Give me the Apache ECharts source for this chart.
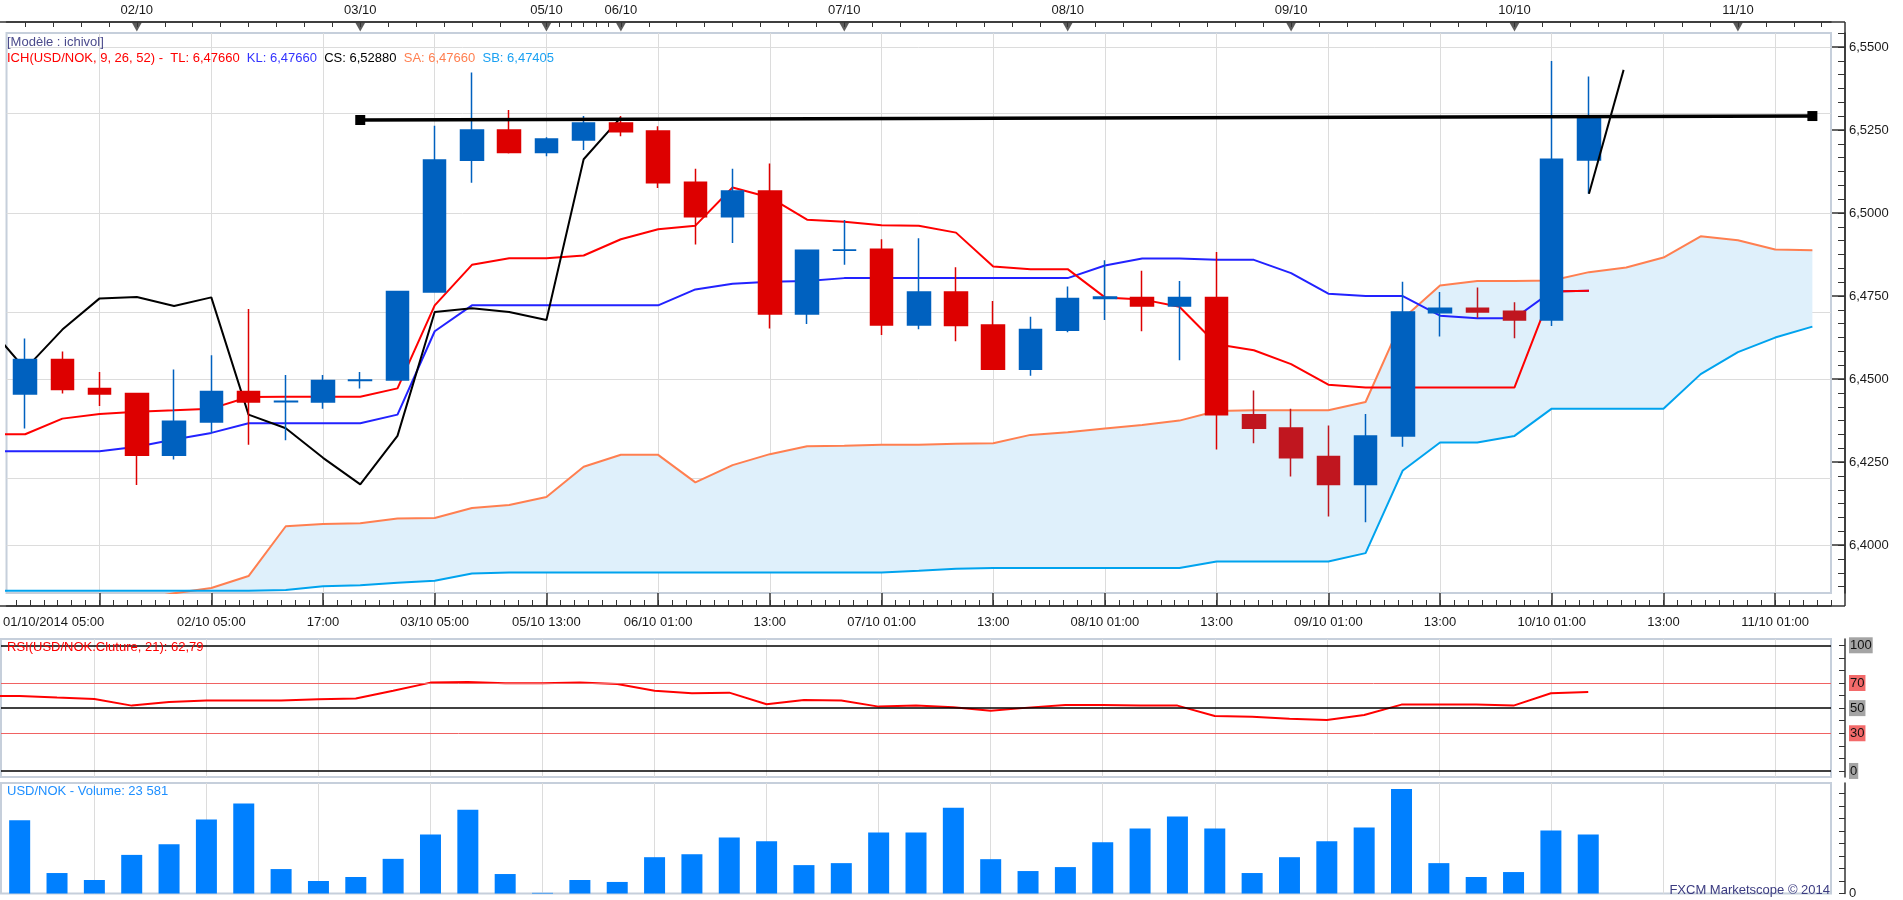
<!DOCTYPE html>
<html><head><meta charset="utf-8">
<script src="https://cdn.jsdelivr.net/npm/echarts@6/dist/echarts.min.js"></script>
<style>html,body{margin:0;padding:0;background:#fff;}#c{width:1903px;height:900px;}</style>
</head><body><div id="c"></div>
<script>
// ---------- data ----------
const slots = Array.from({length: 49}, (_, i) => String(i));
const openP  = [6.4455,6.4559,6.4472,6.4457,6.4271,6.4371,6.4463,6.4432,6.4431,6.4496,6.4497,6.4762,6.5159,6.5250,6.5182,6.5220,6.5271,6.5247,6.5093,6.4989,6.5066,6.4696,6.4888,6.4891,6.4663,6.4762,6.4663,6.4530,6.4647,6.4743,6.4746,6.4720,6.4746,6.4393,6.4353,6.4267,6.4183,6.4329,6.4700,6.4713,6.4704,6.4678,6.5160];
const closeP = [6.4559,6.4469,6.4455,6.4271,6.4373,6.4463,6.4431,6.4433,6.4496,6.4497,6.4764,6.5160,6.5250,6.5182,6.5223,6.5271,6.5245,6.5091,6.4989,6.5066,6.4696,6.4888,6.4889,6.4663,6.4762,6.4661,6.4530,6.4649,6.4743,6.4747,6.4720,6.4746,6.4393,6.4352,6.4263,6.4183,6.4329,6.4702,6.4713,6.4702,6.4678,6.5162,6.5288];
const highP  = [6.4622,6.4583,6.4521,6.4458,6.4529,6.4572,6.4711,6.4512,6.4512,6.4521,6.4766,6.5263,6.5423,6.5310,6.5228,6.5292,6.5292,6.5261,6.5133,6.5133,6.5149,6.4889,6.4979,6.4921,6.4924,6.4837,6.4735,6.4688,6.4779,6.4858,6.4826,6.4795,6.4883,6.4466,6.4411,6.4360,6.4395,6.4793,6.4762,6.4776,6.4731,6.5458,6.5411];
const lowP   = [6.4351,6.4457,6.4419,6.4181,6.4258,6.4338,6.4302,6.4316,6.4411,6.4472,6.4496,6.4760,6.5091,6.5179,6.5171,6.5190,6.5231,6.5075,6.4905,6.4910,6.4652,6.4666,6.4844,6.4633,6.4650,6.4614,6.4529,6.4510,6.4641,6.4678,6.4644,6.4557,6.4288,6.4307,6.4207,6.4086,6.4069,6.4296,6.4628,6.4685,6.4623,6.4660,6.5058];
// indicator lines; each starts with the value seen at the left edge (slot -1)
const tenkan = [6.4334,6.4334,6.4381,6.4395,6.4402,6.4406,6.4411,6.4446,6.4447,6.4447,6.4447,6.4472,6.4722,6.4844,6.4864,6.4864,6.4872,6.4921,6.4951,6.4962,6.5077,6.5047,6.4980,6.4974,6.4963,6.4962,6.4941,6.4839,6.4831,6.4831,6.4746,6.4740,6.4718,6.4605,6.4587,6.4545,6.4483,6.4475,6.4475,6.4475,6.4475,6.4475,6.4764,6.4766];
const kijun  = [6.4283,6.4283,6.4283,6.4283,6.4296,6.4318,6.4338,6.4367,6.4367,6.4367,6.4367,6.4393,6.4644,6.4722,6.4722,6.4722,6.4722,6.4722,6.4722,6.4770,6.4787,6.4793,6.4795,6.4804,6.4804,6.4804,6.4804,6.4804,6.4804,6.4804,6.4842,6.4863,6.4863,6.4859,6.4859,6.4819,6.4757,6.4750,6.4750,6.4691,6.4683,6.4683,6.4764,6.4766];
const chikou = [6.4661,6.4530,6.4649,6.4743,6.4747,6.4720,6.4746,6.4393,6.4352,6.4263,6.4183,6.4329,6.4702,6.4713,6.4702,6.4678,6.5162,6.5288];
const senkouA = [6.3830,6.3830,6.3830,6.3830,6.3835,6.3855,6.3871,6.3907,6.4057,6.4064,6.4066,6.4080,6.4082,6.4112,6.4121,6.4145,6.4236,6.4272,6.4272,6.4189,6.4241,6.4274,6.4298,6.4299,6.4302,6.4302,6.4305,6.4307,6.4332,6.4340,6.4351,6.4362,6.4375,6.4404,6.4406,6.4406,6.4406,6.4431,6.4682,6.4782,6.4795,6.4795,6.4797,6.4822,6.4836,6.4866,6.4930,6.4918,6.4890,6.4888];
const senkouB = [6.3863,6.3863,6.3863,6.3863,6.3863,6.3863,6.3863,6.3863,6.3865,6.3876,6.3879,6.3887,6.3893,6.3915,6.3918,6.3918,6.3918,6.3918,6.3918,6.3918,6.3918,6.3918,6.3918,6.3918,6.3918,6.3923,6.3929,6.3931,6.3931,6.3931,6.3931,6.3931,6.3931,6.3951,6.3951,6.3951,6.3951,6.3976,6.4225,6.4309,6.4309,6.4329,6.4411,6.4411,6.4411,6.4411,6.4515,6.4581,6.4625,6.4658];
const rsi = [59.7,59.7,58.4,57.3,52.0,54.9,56.0,56.0,56.0,57.0,57.6,63.9,70.3,70.8,69.8,69.8,70.3,69.2,63.9,61.8,62.3,53.1,56.5,56.0,51.2,52.0,50.7,48.0,50.4,52.5,52.5,52.0,52.0,43.8,43.2,41.6,40.6,44.6,52.8,52.8,52.8,52.0,61.8,62.8];
const volume = [29240,8170,5400,15410,19620,29500,35950,9750,5000,6590,13830,23580,33450,7770,260,5400,4610,14490,15670,22390,20810,11330,12120,24360,24360,34240,13700,8960,10540,20410,25940,30690,25940,8170,14490,20810,26340,41750,12120,6590,8560,25150,23581];
// drawn lines (x in bar slots, y in price)
const levelLine = [[9, 6.5280], [48, 6.5292]];
const trendLine = [[42, 6.5058], [42.93, 6.5431]];
const lastPrice = 6.5288;
// axis labels
const dayIdx = [3, 9, 14, 16, 22, 28, 34, 40, 46];
const dayLabels = ['02/10','03/10','05/10','06/10','07/10','08/10','09/10','10/10','11/10'];
const timeIdx = [2,5,8,11,14,17,20,23,26,29,32,35,38,41,44,47];
const timeLabels = ['01/10/2014 05:00','02/10 05:00','17:00','03/10 05:00','05/10 13:00','06/10 01:00','13:00','07/10 01:00','13:00','08/10 01:00','13:00','09/10 01:00','13:00','10/10 01:00','13:00','11/10 01:00'];
const priceTicks = [6.400, 6.425, 6.450, 6.475, 6.500, 6.525, 6.550];
const rsiLabels = [0, 30, 50, 70, 100];

// ---------- helpers ----------
const FONT = "'Liberation Sans', Arial, sans-serif";
const PMIN = 6.3856, PMAX = 6.5542;
const fromPrev = arr => arr.map((v, k) => [k - 1, v]);   // first value sits at slot -1
const topMinor = [];
for (let v = 3; v >= -0.5; v -= 0.75) topMinor.push(v);
for (let v = 3.75; v < 14; v += 0.75) topMinor.push(v);
for (let v = 14; v < 15.9; v += 1/3) topMinor.push(v);
for (let v = 16; v <= 48.5; v += 0.75) topMinor.push(v);
const botMinor = [];
for (let v = 2 - 0.375*6; v <= 48.5; v += 0.375) botMinor.push(v);
const yMinor = [];
for (let k = -3; k <= 37; k++) { const v = 6.4 + k*0.025/6; if (v > PMIN && v < PMAX) yMinor.push(+v.toFixed(6)); }
const rsiTicks = []; for (let v = 0; v <= 100; v += 10) rsiTicks.push(v);
const volTicks = []; for (let v = 0; v <= 44000; v += 5000) volTicks.push(v);

const sa = senkouA.slice(1), sb = senkouB.slice(1);
const cloudBand = sa.map((a, i) => Math.max(0, a - sb[i]));
const candleData = openP.map((o, i) => {
  const item = {value: [o, closeP[i], lowP[i], highP[i]]};
  if (closeP[i] < o && o < sa[i] && o > sb[i]) item.itemStyle = {color0: '#c0161f', borderColor0: '#c0161f'};
  return item;
});
const gridV = timeIdx.map(i => ({xAxis: i}));
const gridH = priceTicks.map(v => ({yAxis: v}));
const gl = {color: '#dcdcdc', width: 1, type: 'solid'};

const W = 1903;
const grids = [
  {left: 1, right: W - 1831, top: 33, height: 560, show: true, borderColor: '#c6cfdb', borderWidth: 2, backgroundColor: '#fff'},
  {left: 1, right: W - 1831, top: 639, height: 138, show: true, borderColor: '#c6cfdb', borderWidth: 2, backgroundColor: '#fff'},
  {left: 1, right: W - 1831, top: 783, height: 112, show: true, borderColor: '#c6cfdb', borderWidth: 2, backgroundColor: '#fff'}
];
const axLine = {show: true, onZero: false, lineStyle: {color: '#333', width: 1.5}};
const noLine = {show: false, onZero: false};
const lblStyle = {fontSize: 13, color: '#1a1a1a', fontFamily: FONT};

const option = {
  animation: false,
  backgroundColor: '#fff',
  textStyle: {fontFamily: FONT},
  title: [
    {text: '[Modèle : ichivol]', left: 7, top: 36, padding: 0, textStyle: {fontSize: 13, fontWeight: 'normal', color: '#4b4b8c', fontFamily: FONT}},
    {text: '{r|ICH(USD/NOK, 9, 26, 52) -  TL: 6,47660}  {b|KL: 6,47660}  {k|CS: 6,52880}  {o|SA: 6,47660}  {c|SB: 6,47405}',
     left: 7, top: 52, padding: 0,
     textStyle: {fontSize: 13, fontWeight: 'normal', fontFamily: FONT, color: '#000',
       rich: {r: {color: '#ff0000', fontSize: 13, fontFamily: FONT}, b: {color: '#3333ff', fontSize: 13, fontFamily: FONT},
              k: {color: '#000', fontSize: 13, fontFamily: FONT}, o: {color: '#ff7f50', fontSize: 13, fontFamily: FONT},
              c: {color: '#1ba1f2', fontSize: 13, fontFamily: FONT}}}},
    {text: 'RSI(USD/NOK.Cluture, 21): 62,79', left: 7, top: 641, padding: 0, textStyle: {fontSize: 13, fontWeight: 'normal', color: '#ff0000', fontFamily: FONT}},
    {text: 'USD/NOK - Volume: 23 581', left: 7, top: 785, padding: 0, textStyle: {fontSize: 13, fontWeight: 'normal', color: '#1e8fff', fontFamily: FONT}},
    {text: 'FXCM Marketscope © 2014', right: W - 1830, top: 884, padding: 0, textStyle: {fontSize: 13, fontWeight: 'normal', color: '#3b3b80', fontFamily: FONT}}
  ],
  grid: grids,
  xAxis: [
    {type: 'category', gridIndex: 0, data: slots, boundaryGap: true, show: false, axisLine: noLine},
    {type: 'value', gridIndex: 0, position: 'top', offset: 11, min: -0.5, max: 48.5, axisLine: axLine,
     axisTick: {show: true, inside: true, length: 5, customValues: topMinor, lineStyle: {color: '#333'}},
     axisLabel: Object.assign({customValues: dayIdx, margin: 5, formatter: v => dayLabels[dayIdx.indexOf(Math.round(v))] || ''}, lblStyle),
     splitLine: {show: false}},
    {type: 'value', gridIndex: 0, position: 'bottom', offset: 13, min: -0.5, max: 48.5, axisLine: axLine,
     axisTick: {show: true, inside: true, length: 13, customValues: timeIdx, lineStyle: {color: '#333', width: 1.5}},
     axisLabel: Object.assign({customValues: timeIdx, margin: 10,
       formatter: v => { const k = timeIdx.indexOf(Math.round(v)); return k === 0 ? '{f|' + timeLabels[0] + '}' : (timeLabels[k] || ''); },
       rich: {f: {fontSize: 13, color: '#1a1a1a', fontFamily: FONT, padding: [0, 92, 0, 0]}}}, lblStyle),
     splitLine: {show: false}},
    {type: 'value', gridIndex: 0, position: 'bottom', offset: 13, min: -0.5, max: 48.5, axisLine: noLine,
     axisTick: {show: true, inside: true, length: 6, customValues: botMinor, lineStyle: {color: '#333'}},
     axisLabel: {show: false}, splitLine: {show: false}},
    {type: 'category', gridIndex: 1, data: slots, boundaryGap: true, show: false, axisLine: noLine},
    {type: 'category', gridIndex: 2, data: slots, boundaryGap: true, show: false, axisLine: noLine},
    {type: 'value', gridIndex: 1, min: -0.5, max: 48.5, show: false, axisLine: noLine}
  ],
  yAxis: [
    {type: 'value', gridIndex: 0, position: 'right', offset: 14, min: PMIN, max: PMAX, axisLine: axLine,
     axisTick: {show: true, inside: true, length: 7, customValues: yMinor, lineStyle: {color: '#333'}},
     axisLabel: Object.assign({customValues: priceTicks, margin: 4, formatter: v => v.toFixed(4).replace('.', ',')}, lblStyle),
     splitLine: {show: false}},
    {type: 'value', gridIndex: 0, position: 'right', offset: 14, min: PMIN, max: PMAX, axisLine: noLine,
     axisTick: {show: true, inside: true, length: 13, customValues: priceTicks, lineStyle: {color: '#333', width: 1.5}},
     axisLabel: {show: false}, splitLine: {show: false}},
    {type: 'value', gridIndex: 1, position: 'right', offset: 14, min: -4.8, max: 105, axisLine: axLine,
     axisTick: {show: true, inside: true, length: 6, customValues: rsiTicks, lineStyle: {color: '#333'}},
     axisLabel: {customValues: rsiLabels, margin: 4, fontSize: 13, color: '#111', fontFamily: FONT,
       formatter: v => (v === 70 || v === 30) ? '{r|' + v + '}' : '{g|' + v + '}',
       rich: {g: {backgroundColor: '#a4a4a4', color: '#111', fontSize: 13, fontFamily: FONT, padding: [2, 1, 1, 1]},
              r: {backgroundColor: '#f36a6a', color: '#111', fontSize: 13, fontFamily: FONT, padding: [2, 1, 1, 1]}}},
     splitLine: {show: false}},
    {type: 'value', gridIndex: 2, position: 'right', offset: 14, min: 0, max: 44100, axisLine: axLine,
     axisTick: {show: true, inside: true, length: 6, customValues: volTicks, lineStyle: {color: '#333'}},
     axisLabel: Object.assign({customValues: [0], margin: 4}, lblStyle),
     splitLine: {show: false}}
  ],
  series: [
    // gridlines
    {type: 'line', xAxisIndex: 2, yAxisIndex: 0, data: [], z: 0, silent: true,
     markLine: {silent: true, symbol: 'none', z: 0, label: {show: false}, lineStyle: gl, data: gridV.concat(gridH)}},
    {type: 'line', xAxisIndex: 4, yAxisIndex: 2, data: [], z: 0, silent: true,
     markLine: {silent: true, symbol: 'none', z: 0, label: {show: false}, lineStyle: gl, data: gridV}},
    {type: 'line', xAxisIndex: 5, yAxisIndex: 3, data: [], z: 0, silent: true,
     markLine: {silent: true, symbol: 'none', z: 0, label: {show: false}, lineStyle: gl, data: gridV}},
    // cloud
    {name: 'cloudBase', type: 'line', xAxisIndex: 0, yAxisIndex: 0, data: sb, stack: 'cloud', symbol: 'none', silent: true,
     lineStyle: {opacity: 0}, z: 1},
    {name: 'cloud', type: 'line', xAxisIndex: 0, yAxisIndex: 0, data: cloudBand, stack: 'cloud', symbol: 'none', silent: true,
     lineStyle: {opacity: 0}, areaStyle: {color: '#dff0fb', opacity: 1}, z: 1},
    {name: 'SA', type: 'line', xAxisIndex: 1, yAxisIndex: 0, data: fromPrev(senkouA), symbol: 'none', lineStyle: {color: '#ff7f50', width: 2}, z: 2},
    {name: 'SB', type: 'line', xAxisIndex: 1, yAxisIndex: 0, data: fromPrev(senkouB), symbol: 'none', lineStyle: {color: '#00a3ee', width: 2}, z: 2},
    {name: 'KL', type: 'line', xAxisIndex: 1, yAxisIndex: 0, data: fromPrev(kijun), symbol: 'none', lineStyle: {color: '#2222ff', width: 2}, z: 3},
    {name: 'TL', type: 'line', xAxisIndex: 1, yAxisIndex: 0, data: fromPrev(tenkan), symbol: 'none', lineStyle: {color: '#ff0000', width: 2}, z: 3},
    {name: 'CS', type: 'line', xAxisIndex: 1, yAxisIndex: 0, data: fromPrev(chikou), symbol: 'none', lineStyle: {color: '#000', width: 2}, z: 3},
    {name: 'price', type: 'candlestick', xAxisIndex: 0, yAxisIndex: 0, data: candleData, barWidth: 23, z: 4,
     itemStyle: {color: '#0061bf', color0: '#dd0000', borderColor: '#0061bf', borderColor0: '#dd0000', borderWidth: 1.5},
     markLine: {silent: true, symbol: 'none', data: [{yAxis: lastPrice}], lineStyle: {opacity: 0},
       label: {show: true, position: 'end', distance: 15, formatter: lastPrice.toFixed(5).replace('.', ','),
               backgroundColor: '#6cc8f5', color: '#111', fontSize: 13, fontFamily: FONT, padding: [3, 2, 2, 2]}}},
    {name: 'level', type: 'line', xAxisIndex: 1, yAxisIndex: 0, data: levelLine, symbol: 'rect', symbolSize: 10, showAllSymbol: true,
     lineStyle: {color: '#000', width: 3.5}, itemStyle: {color: '#000'}, z: 6},
    {name: 'trend', type: 'line', xAxisIndex: 1, yAxisIndex: 0, data: trendLine, symbol: 'none',
     lineStyle: {color: '#000', width: 2}, z: 6},
    {name: 'dayMarks', type: 'scatter', xAxisIndex: 1, yAxisIndex: 0, data: dayIdx.map(i => [i, PMAX]), symbol: 'triangle',
     symbolRotate: 180, symbolSize: [10, 9], symbolOffset: [0, -6], itemStyle: {color: '#333'}, clip: false, silent: true, z: 7},
    // RSI
    {name: 'RSI', type: 'line', xAxisIndex: 6, yAxisIndex: 2, data: fromPrev(rsi), symbol: 'none', lineStyle: {color: '#ff0000', width: 2}, z: 3,
     markLine: {silent: true, symbol: 'none', label: {show: false},
       data: [{yAxis: 100, lineStyle: {color: '#000', width: 1.5, type: 'solid'}},
              {yAxis: 70, lineStyle: {color: '#f06262', width: 1, type: 'solid'}},
              {yAxis: 50, lineStyle: {color: '#000', width: 1.5, type: 'solid'}},
              {yAxis: 30, lineStyle: {color: '#f06262', width: 1, type: 'solid'}},
              {yAxis: 0, lineStyle: {color: '#000', width: 1.5, type: 'solid'}}]}},
    // Volume
    {name: 'Volume', type: 'bar', xAxisIndex: 5, yAxisIndex: 3, data: volume, barWidth: 21, itemStyle: {color: '#0080ff'}, z: 3}
  ],
  graphic: [
    {type: 'line', silent: true, shape: {x1: 1845, y1: 22, x2: 1845, y2: 606}, style: {stroke: '#333', lineWidth: 1.5}},
    {type: 'line', silent: true, shape: {x1: 0, y1: 22, x2: 1845, y2: 22}, style: {stroke: '#333', lineWidth: 1.5}},
    {type: 'line', silent: true, shape: {x1: 0, y1: 606, x2: 1845, y2: 606}, style: {stroke: '#333', lineWidth: 1.5}}
  ]
};
const chart = echarts.init(document.getElementById('c'), null, {renderer: 'canvas'});
chart.setOption(option);
</script></body></html>
